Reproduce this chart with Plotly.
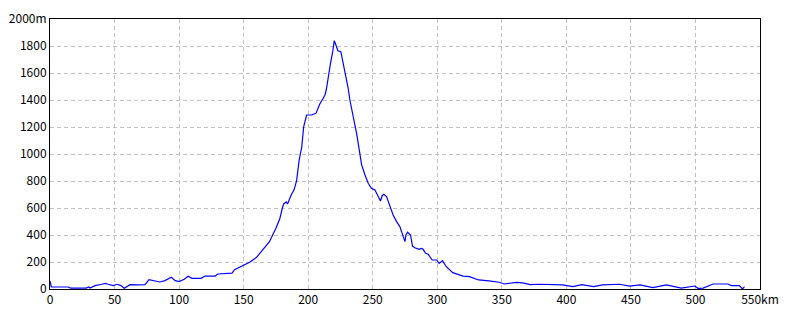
import plotly.graph_objects as go

# distance along route (km) and elevation (m)
dist_km = [0, 1, 14, 16, 28, 30, 31, 35, 40, 43, 45, 49, 52, 55, 57.5, 62, 68, 73.6, 76.7, 79, 81, 85, 89, 94, 97,
           100, 104, 107, 110, 117, 120, 128, 130, 136, 141, 143, 150, 155, 160, 165, 170, 175, 178, 180, 181, 183,
           184, 187, 189, 191, 192, 193, 195, 196.5, 198.8, 202.6, 206, 209, 211.6, 213, 214, 215.5, 217.3, 219,
           220.2, 221.2, 222, 223, 225.3, 227, 229, 231, 232.3, 235, 237.5, 240, 241.4, 244, 246.5, 249, 251.7,
           253.7, 256, 257.3, 258.6, 260.7, 263.3, 265.8, 268.5, 271, 272.8, 275, 275.7, 277, 279.3, 280.8, 282.6,
           286, 287.8, 289, 291, 293, 294.3, 296, 299.4, 301.5, 304, 307, 312, 320, 325, 332, 340, 348, 352, 361,
           366, 372, 379, 387, 397, 405, 412, 421, 428, 441, 449, 457, 467, 477.5, 489, 499.5, 502, 506, 513.6, 525,
           528, 534, 536.4, 538]
elev_m = [60, 15, 15, 7, 7, 15, 7, 25, 35, 42, 35, 25, 35, 25, 5, 32, 30, 32, 69, 65, 62, 52, 62, 87, 62,
          55, 72, 94, 79, 79, 96, 96, 111, 113, 118, 143, 175, 200, 235, 290, 350, 450, 520, 600, 630, 645,
          630, 700, 733, 800, 906, 955, 1050, 1202, 1289, 1289, 1301, 1370, 1413, 1437, 1474, 1573, 1672, 1758,
          1840, 1815, 1795, 1765, 1758, 1684, 1598, 1487, 1400, 1276, 1153, 1005, 919, 844, 783, 746, 733,
          696, 652, 691, 701, 684, 610, 548, 499, 462, 412, 351, 400, 420, 400, 318, 306,
          294, 301, 294, 264, 257, 239, 215, 215, 190, 210, 165, 121, 96, 91, 67, 60, 50, 37, 49,
          45, 32, 35, 32, 30, 17, 32, 17, 30, 35, 22, 30, 10, 30, 7, 22, 5, 7, 37, 37,
          25, 25, 0, 17]

x_ticks = [0, 50, 100, 150, 200, 250, 300, 350, 400, 450, 500, 550]
x_labels = ["0", "50", "100", "150", "200", "250", "300", "350", "400", "450", "500", "550km"]
y_ticks = [0, 200, 400, 600, 800, 1000, 1200, 1400, 1600, 1800, 2000]
y_labels = ["0", "200", "400", "600", "800", "1000", "1200", "1400", "1600", "1800", "2000m"]

fig = go.Figure()
fig.add_trace(go.Scatter(x=dist_km, y=elev_m, mode="lines",
                         line=dict(color="#0000ff", width=1.2), hoverinfo="x+y"))

font = dict(family="Noto Sans CJK JP, DejaVu Sans, sans-serif", size=12, color="black")
fig.update_layout(
    width=800, height=320,
    margin=dict(l=50, r=40, t=19, b=31),
    paper_bgcolor="white", plot_bgcolor="white",
    showlegend=False, font=font,
)
fig.update_xaxes(range=[0, 550], tickvals=x_ticks, ticktext=x_labels, showgrid=True,
                 gridcolor="#c0c0c0", griddash="4px,3px", gridwidth=1, zeroline=False,
                 showline=True, linecolor="black", linewidth=1, mirror=True, ticks="",
                 tickfont=font, automargin=False)
fig.update_yaxes(range=[0, 2000], tickvals=y_ticks, ticktext=y_labels, showgrid=True,
                 gridcolor="#c0c0c0", griddash="4px,3px", gridwidth=1, zeroline=False,
                 showline=True, linecolor="black", linewidth=1, mirror=True, ticks="",
                 tickfont=font, automargin=False)

fig.write_html("out.html")
